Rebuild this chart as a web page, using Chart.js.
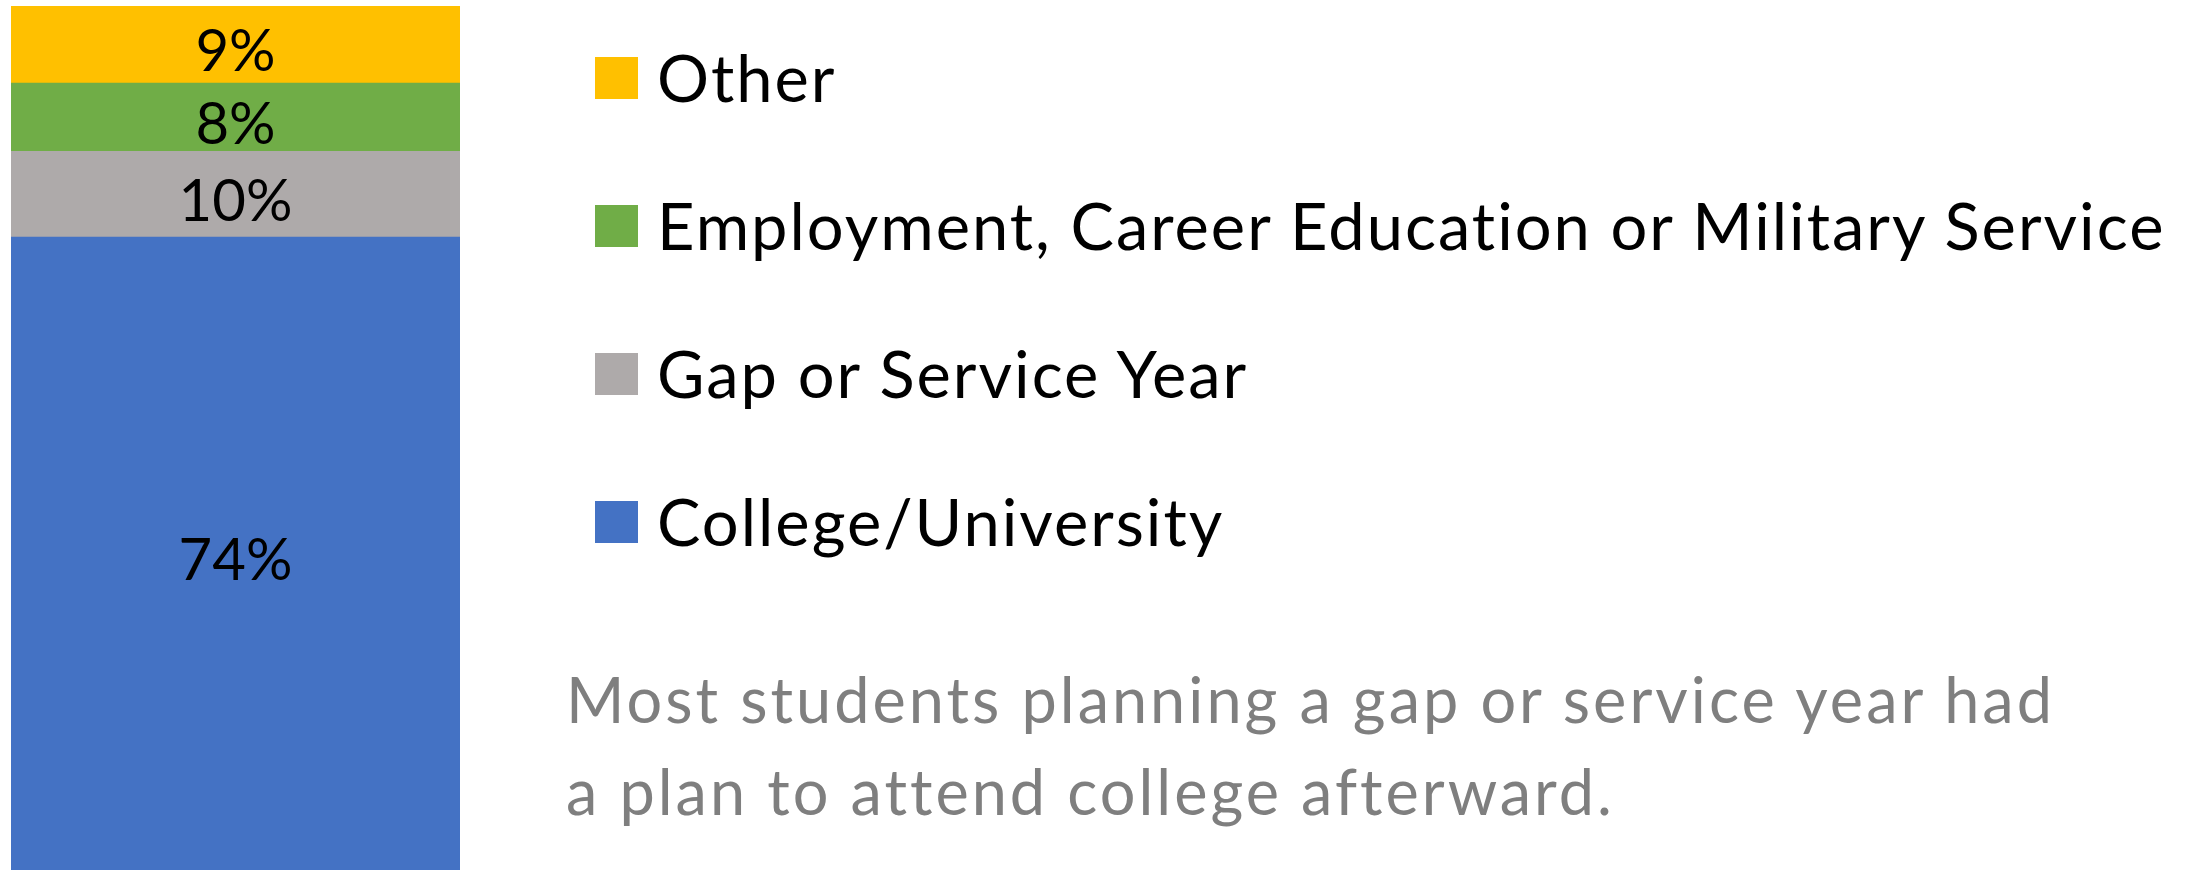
<!DOCTYPE html>
<html>
<head>
<meta charset="utf-8">
<script src="https://cdn.jsdelivr.net/npm/chart.js@4.4.0/dist/chart.umd.min.js"></script>
<style>
  body { margin: 0; background: #fff; }
  #wrap { position: relative; width: 2197px; height: 870px; }
  #chart { position: absolute; left: 0; top: 0; }
  #legend { position: absolute; left: 595px; top: 3px; margin: 0; padding: 0; list-style: none; font-family: Lato, sans-serif; font-size: 65px; letter-spacing: 2px; color: #000; }
  #legend li { display: flex; align-items: center; height: 148px; line-height: 148px; white-space: nowrap; }
  #legend .box { display: inline-block; width: 43px; height: 42px; margin-right: 19px; margin-top: 2px; }
  #note { position: absolute; left: 566px; top: 653px; font-family: Lato, sans-serif; font-size: 63px; letter-spacing: 3px; line-height: 92px; color: #7f7f7f; white-space: nowrap; }
</style>
</head>
<body>
<div id="wrap">
  <canvas id="chart" width="2197" height="870"></canvas>
  <ul id="legend"></ul>
  <div id="note">Most students planning a gap or service year had<br>a plan to attend college afterward.</div>
</div>
<script>
const categories = ['Plans'];
const seriesNames = ['College/University', 'Gap or Service Year', 'Employment, Career Education or Military Service', 'Other'];
const seriesValues = [74, 10, 8, 9];
const seriesColors = ['#4472C4', '#AEAAAA', '#70AD47', '#FFC000'];

// percent labels drawn in the middle of each segment
const segmentLabels = {
  id: 'segmentLabels',
  afterDatasetsDraw(chart) {
    const ctx = chart.ctx;
    ctx.save();
    ctx.font = '58px Lato, sans-serif';
    ctx.fillStyle = '#000';
    ctx.textAlign = 'center';
    ctx.textBaseline = 'middle';
    chart.data.datasets.forEach((ds, i) => {
      const meta = chart.getDatasetMeta(i);
      meta.data.forEach((bar, j) => {
        const mid = (bar.y + bar.base) / 2;
        ctx.fillText(ds.data[j] + '%', bar.x, mid + 8);
      });
    });
    ctx.restore();
  }
};

const chart = new Chart(document.getElementById('chart'), {
  type: 'bar',
  data: {
    labels: categories,
    datasets: seriesNames.map((name, i) => ({
      label: name,
      data: [seriesValues[i]],
      backgroundColor: seriesColors[i],
      borderWidth: 0,
      barPercentage: 1,
      categoryPercentage: 1
    }))
  },
  options: {
    responsive: false,
    animation: false,
    layout: { padding: { left: 11, top: 6, right: 2197 - 460, bottom: 0 } },
    scales: {
      x: { stacked: true, display: false },
      y: { stacked: true, display: false, min: 0, max: 101 }
    },
    plugins: {
      legend: { display: false },
      tooltip: { enabled: false }
    }
  },
  plugins: [segmentLabels]
});

// html legend, top item is the top segment
function buildLegend() {
  const list = document.getElementById('legend');
  const items = chart.options.plugins.legend.labels.generateLabels(chart).reverse();
  items.forEach(item => {
    const li = document.createElement('li');
    const box = document.createElement('span');
    box.className = 'box';
    box.style.background = item.fillStyle;
    li.appendChild(box);
    li.appendChild(document.createTextNode(item.text));
    list.appendChild(li);
  });
}

buildLegend();
</script>
</body>
</html>
